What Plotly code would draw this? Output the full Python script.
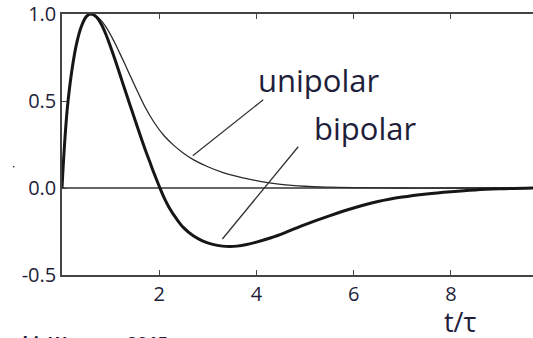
import plotly.graph_objects as go

# Pulse shapes vs. normalised time t/tau
t_uni = [0, 0.05, 0.11, 0.2, 0.3, 0.4, 0.5, 0.59, 0.7, 0.8, 0.9, 1.0, 1.1, 1.2, 1.3,
         1.4, 1.52, 1.7, 1.9, 2.1, 2.3, 2.5, 2.7, 3.0, 3.3, 3.7, 4.1, 4.5, 5.0, 5.5,
         6.0, 7.0, 8.0, 9.7]
v_uni = [0, 0.24, 0.46, 0.67, 0.83, 0.93, 0.985, 1.0, 0.99, 0.965, 0.927, 0.88, 0.826,
         0.768, 0.708, 0.647, 0.575, 0.47, 0.375, 0.3, 0.245, 0.2, 0.163, 0.122, 0.09,
         0.06, 0.037, 0.021, 0.01, 0.005, 0.002, 0.0, 0.0, 0.0]

t_bip = [0, 0.05, 0.11, 0.2, 0.3, 0.4, 0.5, 0.59, 0.7, 0.8, 0.9, 1.0, 1.1, 1.2, 1.3,
         1.45, 1.6, 1.7, 1.8, 1.9, 2.0, 2.1, 2.2, 2.35, 2.5, 2.7, 2.9, 3.1, 3.3, 3.45,
         3.6, 3.8, 4.0, 4.3, 4.6, 5.0, 5.5, 6.0, 6.5, 7.0, 7.5, 8.0, 8.5, 9.0, 9.7]
v_bip = [0, 0.24, 0.46, 0.67, 0.83, 0.93, 0.985, 1.0, 0.985, 0.945, 0.885, 0.81, 0.73,
         0.645, 0.56, 0.435, 0.31, 0.23, 0.155, 0.08, 0.01, -0.055, -0.11, -0.175,
         -0.228, -0.275, -0.305, -0.324, -0.334, -0.336, -0.334, -0.325, -0.311,
         -0.286, -0.255, -0.21, -0.16, -0.115, -0.078, -0.052, -0.034, -0.021, -0.011,
         -0.005, 0.0]

x_ticks = [2, 4, 6, 8]
y_ticks = [-0.5, 0.0, 0.5, 1.0]
y_tick_text = ["-0.5", "0.0", "0.5", "1.0"]

# label pointer lines: (t_start, v_start, t_end, v_end)
uni_pointer = (4.14, 0.507, 2.69, 0.186)
bip_pointer = (4.86, 0.237, 3.30, -0.293)

TXT = "#1e1e3a"
FONT = "Open Sans"

fig = go.Figure()
fig.add_trace(go.Scatter(x=t_uni, y=v_uni, mode="lines", name="unipolar",
                         line=dict(color="#2a2a2a", width=1.3, shape="spline", smoothing=1.0)))
fig.add_trace(go.Scatter(x=t_bip, y=v_bip, mode="lines", name="bipolar",
                         line=dict(color="#161616", width=3, shape="spline", smoothing=1.0)))

for p in (uni_pointer, bip_pointer):
    fig.add_shape(type="line", x0=p[0], y0=p[1], x1=p[2], y1=p[3],
                  xref="x", yref="y", line=dict(color="#333333", width=1.3))

fig.add_annotation(text="unipolar", x=4.0, y=0.49, xref="x", yref="y", showarrow=False,
                   xanchor="left", yanchor="bottom",
                   font=dict(family=FONT, size=31, color=TXT))
fig.add_annotation(text="bipolar", x=5.14, y=0.212, xref="x", yref="y", showarrow=False,
                   xanchor="left", yanchor="bottom",
                   font=dict(family=FONT, size=31, color=TXT))

fig.add_annotation(text="t/τ", x=0.847, y=-0.18, xref="paper", yref="paper",
                   showarrow=False, xanchor="center", yanchor="middle",
                   font=dict(family=FONT, size=27, color=TXT))
fig.add_annotation(text="<b>Kolanoski, Wermes 2015</b>", x=0.2293, y=-0.207,
                   xref="paper", yref="paper", showarrow=False,
                   xanchor="right", yanchor="top",
                   font=dict(family=FONT, size=18, color=TXT))
fig.add_shape(type="circle", xref="paper", yref="paper",
              x0=-0.1045, x1=-0.1005, y0=0.412, y1=0.418,
              line=dict(width=0), fillcolor="#333333")

fig.update_xaxes(range=[0, 9.69], tickvals=x_ticks, ticktext=[str(v) for v in x_ticks],
                 ticks="inside", ticklen=5, tickwidth=1.3, tickcolor="#444444",
                 showline=True, linecolor="#444444", linewidth=1.5, mirror="ticks",
                 showgrid=False, zeroline=False,
                 tickfont=dict(family=FONT, size=20, color=TXT))
fig.update_yaxes(range=[-0.5, 1.0], tickvals=y_ticks, ticktext=y_tick_text,
                 ticks="inside", ticklen=5, tickwidth=1.3, tickcolor="#444444",
                 showline=True, linecolor="#444444", linewidth=1.5,
                 showgrid=False, zeroline=True, zerolinecolor="#666666", zerolinewidth=1.5,
                 tickfont=dict(family=FONT, size=20, color=TXT))

fig.update_layout(width=533, height=338, margin=dict(l=62, r=0, t=14, b=63),
                  paper_bgcolor="white", plot_bgcolor="white", showlegend=False)

fig.write_html("out.html")
